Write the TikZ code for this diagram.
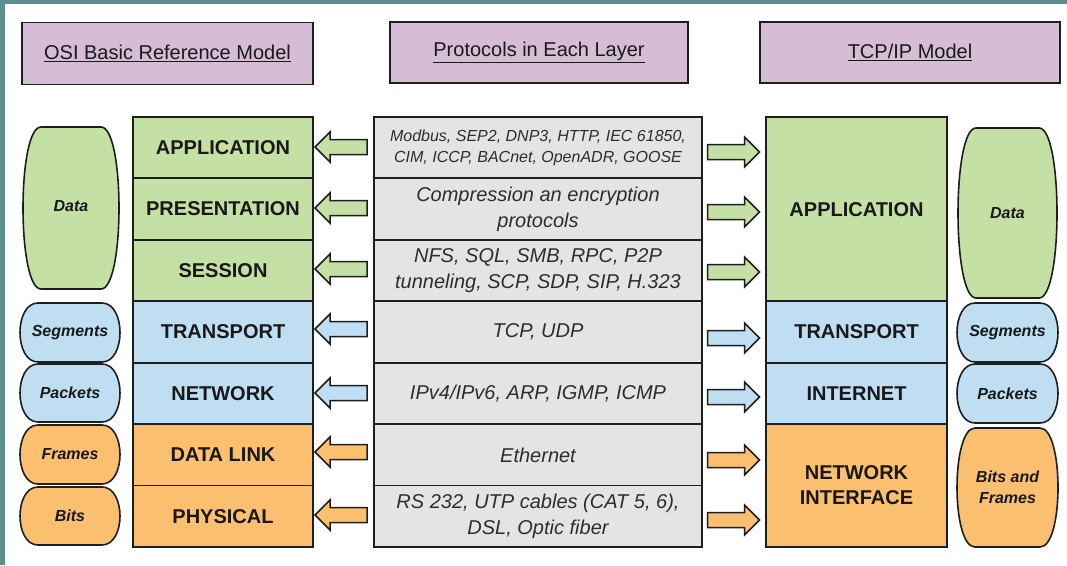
\documentclass[tikz,border=0pt]{standalone}
\usepackage{fontspec}
\setmainfont{Liberation Sans}
\definecolor{tealc}{RGB}{90,142,143}
\definecolor{greenc}{RGB}{197,224,165}
\definecolor{bluec}{RGB}{191,222,242}
\definecolor{orangec}{RGB}{250,192,112}
\definecolor{grayc}{RGB}{228,228,228}
\definecolor{purplec}{RGB}{213,189,214}
\definecolor{linec}{RGB}{30,30,30}
\definecolor{textc}{RGB}{25,25,25}
\definecolor{protc}{RGB}{45,45,45}
\newcommand\osiPill[5]{%
  \draw[pillline, fill=#5] ({#1+18},#2) -- ({#3-18},#2)
    .. controls ({#3+6},#2) and ({#3+6},#4) .. ({#3-18},#4)
    -- ({#1+18},#4)
    .. controls ({#1-6},#4) and ({#1-6},#2) .. ({#1+18},#2) -- cycle;}
\newcommand\osiArrowL[3]{%
  \draw[blockarrow, fill=#3, shift={(#1,#2)}] (-26,0) -- (-11,-15) -- (-11,-7.5) -- (26,-7.5)
    -- (26,7.5) -- (-11,7.5) -- (-11,15) -- cycle;}
\newcommand\osiArrowR[3]{%
  \draw[blockarrow, fill=#3, shift={(#1,#2)}] (26,0) -- (11,-15) -- (11,-7.5) -- (-26,-7.5)
    -- (-26,7.5) -- (11,7.5) -- (11,15) -- cycle;}
\begin{document}
\begin{tikzpicture}[x=1pt,y=-1pt,
  title/.style={draw=linec, line width=1.8pt, fill=purplec, minimum height=62pt, inner sep=0pt,
    font=\fontsize{20}{24}\selectfont, text=textc},
  layer/.style={draw=linec, line width=1.8pt, minimum width=180pt, minimum height=61.43pt, inner sep=0pt,
    font=\bfseries\fontsize{20}{25}\selectfont, text=textc, align=center},
  prot/.style={draw=linec, line width=1.8pt, fill=grayc, minimum width=328pt, minimum height=61.43pt, inner sep=0pt,
    font=\itshape\fontsize{20}{26}\selectfont, text=protc, align=center},
  pillline/.style={draw=linec, line width=1.6pt},
  pilltext/.style={font=\bfseries\itshape\fontsize{16}{21.5}\selectfont, text=textc, align=center, inner sep=0pt},
  blockarrow/.style={draw=linec, line width=1.5pt, line join=miter}
]
\fill[white] (0,0) rectangle (1067,565);
\fill[tealc] (0,0) rectangle (1067,4);
\fill[tealc] (0,0) rectangle (5,565);
\useasboundingbox (0,0) rectangle (1067,565);

% titles
\node[title, minimum width=291pt] (t1) at (167.5,53.5) {\underline{OSI Basic Reference Model}};
\node[title, minimum width=298pt, minimum height=61pt] (t2) at (539,52.5) {\underline{Protocols in Each Layer}};
\node[title, minimum width=300pt, minimum height=61pt] (t3) at (910,52.5) {\underline{TCP/IP Model}};

% OSI layers
\node[layer, fill=greenc] (app) at (223,147.7) {APPLICATION};
\node[layer, fill=greenc] (pres) at (223,209.1) {PRESENTATION};
\node[layer, fill=greenc] (sess) at (223,270.6) {SESSION};
\node[layer, fill=bluec] (trans) at (223,332.0) {TRANSPORT};
\node[layer, fill=bluec] (net) at (223,393.4) {NETWORK};
\node[layer, fill=orangec] (dl) at (223,454.9) {DATA LINK};
\node[layer, fill=orangec] (phy) at (223,516.3) {PHYSICAL};

% protocols
\node[prot, font=\itshape\fontsize{16}{21}\selectfont] (p1) at (538,147.7) {Modbus, SEP2, DNP3, HTTP, IEC 61850,\\CIM, ICCP, BACnet, OpenADR, GOOSE};
\node[prot] (p2) at (538,209.1) {Compression an encryption\\protocols};
\node[prot] (p3) at (538,270.6) {NFS, SQL, SMB, RPC, P2P\\tunneling, SCP, SDP, SIP, H.323};
\node[prot] (p4) at (538,332.0) {TCP, UDP};
\node[prot] (p5) at (538,393.4) {IPv4/IPv6, ARP, IGMP, ICMP};
\node[prot] (p6) at (538,454.9) {Ethernet};
\node[prot] (p7) at (538,516.3) {RS 232, UTP cables (CAT 5, 6),\\DSL, Optic fiber};

% TCP/IP layers
\node[layer, fill=greenc, minimum width=181pt, minimum height=184.3pt] (tapp) at (856.5,209.2) {APPLICATION};
\node[layer, fill=bluec, minimum width=181pt] (ttrans) at (856.5,332.0) {TRANSPORT};
\node[layer, fill=bluec, minimum width=181pt] (tnet) at (856.5,393.4) {INTERNET};
\node[layer, fill=orangec, minimum width=181pt, minimum height=122.9pt] (tni) at (856.5,485.6) {NETWORK\\INTERFACE};

% left arrows
\osiArrowL{341}{147}{greenc}
\osiArrowL{341}{208}{greenc}
\osiArrowL{341}{269}{greenc}
\osiArrowL{341}{329}{bluec}
\osiArrowL{341}{393}{bluec}
\osiArrowL{341}{452}{orangec}
\osiArrowL{341}{515}{orangec}

% right arrows
\osiArrowR{733.5}{152}{greenc}
\osiArrowR{733.5}{212}{greenc}
\osiArrowR{733.5}{272}{greenc}
\osiArrowR{733.5}{338}{bluec}
\osiArrowR{733.5}{397}{bluec}
\osiArrowR{733.5}{460}{orangec}
\osiArrowR{733.5}{520}{orangec}

% left pills
\osiPill{23}{127}{119}{289}{greenc}
\node[pilltext] (ldata) at (71,206) {Data};
\osiPill{20}{303}{120}{362}{bluec}
\node[pilltext] (lseg) at (70,332.5) {Segments};
\osiPill{20}{364}{120}{422}{bluec}
\node[pilltext] (lpack) at (70,393) {Packets};
\osiPill{20}{425}{120}{484}{orangec}
\node[pilltext] (lframes) at (70,454.5) {Frames};
\osiPill{20}{487}{120}{545}{orangec}
\node[pilltext] (lbits) at (70,516) {Bits};

% right pills
\osiPill{958}{128}{1057}{298}{greenc}
\node[pilltext] (rdata) at (1007.5,213) {Data};
\osiPill{957}{303}{1058}{362}{bluec}
\node[pilltext] (rseg) at (1007.5,332.5) {Segments};
\osiPill{957}{364}{1058}{423}{bluec}
\node[pilltext] (rpack) at (1007.5,393.5) {Packets};
\osiPill{957}{428}{1058}{547}{orangec}
\node[pilltext] (rbf) at (1007.5,487.5) {Bits and\\Frames};
\end{tikzpicture}
\end{document}
